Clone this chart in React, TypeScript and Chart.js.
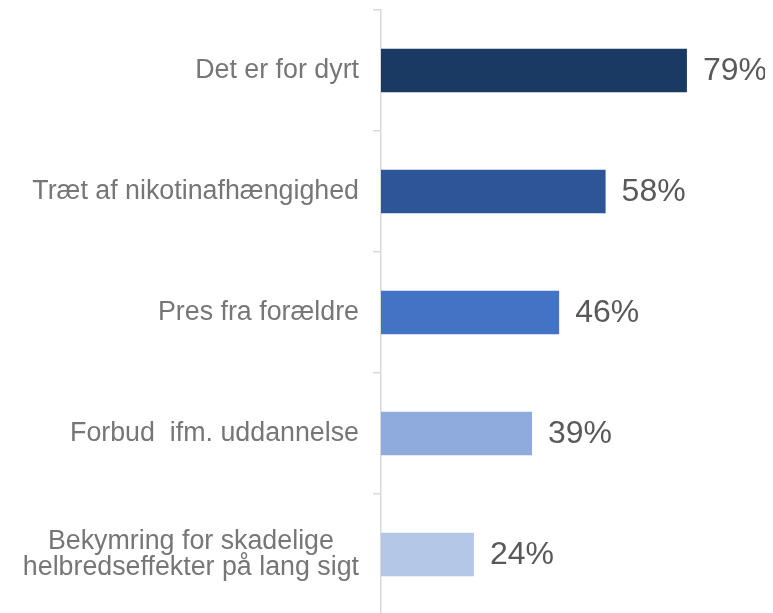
import React, { useEffect, useRef } from "react";
import { Chart, registerables } from "chart.js";

Chart.register(...registerables);

const categories: (string | string[])[] = [
  "Det er for dyrt",
  "Træt af nikotinafhængighed",
  "Pres fra forældre",
  "Forbud  ifm. uddannelse",
  ["Bekymring for skadelige", "helbredseffekter på lang sigt"],
];
const values = [79, 58, 46, 39, 24];
const barColors = ["#1B3A63", "#2E5597", "#4472C4", "#8FAADC", "#B4C7E7"];

const FONT_FAMILY = "'Liberation Sans', Arial, sans-serif";

const valueLabels = {
  id: "valueLabels",
  afterDatasetsDraw(chart: any) {
    const ctx = chart.ctx;
    const meta = chart.getDatasetMeta(0);
    ctx.save();
    ctx.font = "32px " + FONT_FAMILY;
    ctx.fillStyle = "#595959";
    ctx.textAlign = "left";
    ctx.textBaseline = "middle";
    meta.data.forEach((bar: any, i: number) => {
      ctx.fillText(values[i] + "%", bar.x + 16, bar.y + 1);
    });
    ctx.restore();
  },
};

// category labels: block right-aligned to the axis, lines centred within the block
const categoryLabels = {
  id: "categoryLabels",
  afterDraw(chart: any) {
    const ctx = chart.ctx;
    const scale = chart.scales.y;
    const size = 26.8;
    const lh = 26.5;
    ctx.save();
    ctx.font = size + "px " + FONT_FAMILY;
    ctx.fillStyle = "#767676";
    ctx.textBaseline = "middle";
    ctx.textAlign = "center";
    const right = chart.chartArea.left - 8 - 14;
    categories.forEach((label, i) => {
      const lines = Array.isArray(label) ? label : [label];
      const w = Math.max(...lines.map((l) => ctx.measureText(l).width));
      const cx = right - w / 2;
      const y = scale.getPixelForTick(i);
      lines.forEach((l, k) => {
        ctx.fillText(l, cx, y + (k - (lines.length - 1) / 2) * lh);
      });
    });
    ctx.restore();
  },
};

export default function App() {
  const ref = useRef<HTMLCanvasElement>(null);
  useEffect(() => {
    document.body.style.overflow = "hidden";
    const chart = new Chart(ref.current!, {
      type: "bar",
      data: {
        labels: categories,
        datasets: [
          {
            data: values,
            backgroundColor: barColors,
            barPercentage: 0.36,
            categoryPercentage: 1,
          },
        ],
      },
      options: {
        indexAxis: "y",
        animation: false,
        responsive: true,
        maintainAspectRatio: false,
        layout: { padding: { top: 2, right: 4.5, bottom: 0, left: 0 } },
        plugins: { legend: { display: false }, tooltip: { enabled: false } },
        scales: {
          x: { display: false, min: 0, max: 98 },
          y: {
            afterFit(scale: any) {
              scale.width = 373;
              scale.paddingTop = 0;
              scale.paddingBottom = 0;
            },
            border: { display: true, color: "#D9D9D9", width: 1.5 },
            grid: {
              display: true,
              offset: true,
              drawOnChartArea: false,
              drawTicks: true,
              tickLength: 8,
              color: "#D9D9D9",
              lineWidth: 1.5,
            },
            ticks: {
              display: false,
              padding: 14,
            },
          },
        },
      },
      plugins: [valueLabels, categoryLabels],
    });
    return () => chart.destroy();
  }, []);
  return (
    <div style={{ width: 757, height: 607, position: "relative" }}>
      <canvas ref={ref} />
    </div>
  );
}
